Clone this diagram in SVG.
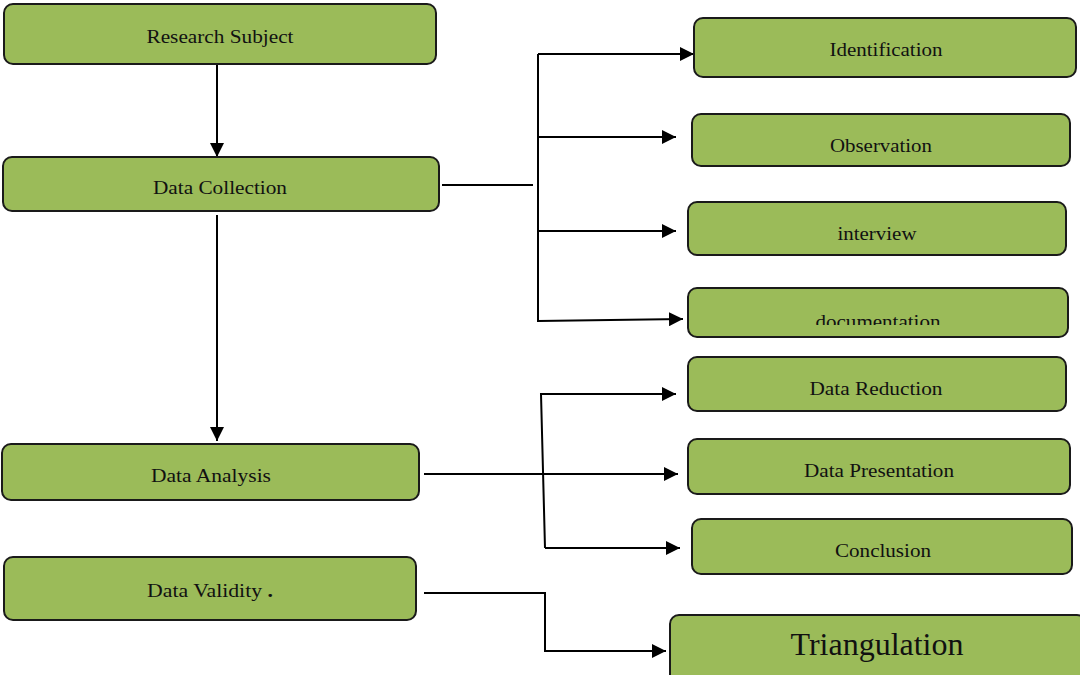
<svg xmlns="http://www.w3.org/2000/svg" width="1080" height="675" viewBox="0 0 1080 675">
<style>
.box{fill:#9BBB59;stroke:#1a1a1a;stroke-width:2}
.t{font-family:"Liberation Serif","Times New Roman",serif;font-size:19px;fill:#111;text-anchor:middle}
.c{fill:none;stroke:#000;stroke-width:2}
</style>
<defs>
<marker id="ah" viewBox="0 0 10 10" refX="10" refY="5" markerWidth="14" markerHeight="14" markerUnits="userSpaceOnUse" orient="auto">
<path d="M0,0 L10,5 L0,10 Z" fill="#000"/>
</marker>
<clipPath id="docclip"><rect x="688" y="288" width="380" height="37"/></clipPath>
</defs>
<rect width="1080" height="675" fill="#fff"/>
<g id="connectors">
<path class="c" d="M217,64 V157" marker-end="url(#ah)"/>
<path class="c" d="M217,215 V441" marker-end="url(#ah)"/>
<path class="c" d="M442,185 H533"/>
<path class="c" d="M538,54 V322"/>
<path class="c" d="M538,54 H694" marker-end="url(#ah)"/>
<path class="c" d="M538,137 H676" marker-end="url(#ah)"/>
<path class="c" d="M538,231 H676" marker-end="url(#ah)"/>
<path class="c" d="M538,321 L683,319" marker-end="url(#ah)"/>
<path class="c" d="M424,474 H678" marker-end="url(#ah)"/>
<path class="c" d="M545,548 L541,394 H676" marker-end="url(#ah)"/>
<path class="c" d="M545,548 H680" marker-end="url(#ah)"/>
<path class="c" d="M424,593 H545 V651 H666" marker-end="url(#ah)"/>
</g>
<g id="n-research-subject"><rect class="box" x="4" y="4" width="432" height="60" rx="9"/><text class="t" x="220" y="43" textLength="147" lengthAdjust="spacingAndGlyphs">Research Subject</text></g>
<g id="n-data-collection"><rect class="box" x="3" y="157" width="436" height="54" rx="9"/><text class="t" x="220" y="194" textLength="134" lengthAdjust="spacingAndGlyphs">Data Collection</text></g>
<g id="n-data-analysis"><rect class="box" x="2" y="444" width="417" height="56" rx="9"/><text class="t" x="211" y="482" textLength="120" lengthAdjust="spacingAndGlyphs">Data Analysis</text></g>
<g id="n-data-validity"><rect class="box" x="4" y="557" width="412" height="63" rx="9"/><text class="t" x="210" y="597" textLength="126" lengthAdjust="spacingAndGlyphs">Data Validity <tspan font-weight="bold">.</tspan></text></g>
<g id="n-identification"><rect class="box" x="694" y="18" width="382" height="59" rx="9"/><text class="t" x="886" y="56" textLength="113" lengthAdjust="spacingAndGlyphs">Identification</text></g>
<g id="n-observation"><rect class="box" x="692" y="114" width="378" height="52" rx="9"/><text class="t" x="881" y="152" textLength="102" lengthAdjust="spacingAndGlyphs">Observation</text></g>
<g id="n-interview"><rect class="box" x="688" y="202" width="378" height="53" rx="9"/><text class="t" x="877" y="240" textLength="79" lengthAdjust="spacingAndGlyphs">interview</text></g>
<g id="n-documentation"><rect class="box" x="688" y="288" width="380" height="49" rx="9"/><text class="t" x="878" y="328" textLength="125" lengthAdjust="spacingAndGlyphs" clip-path="url(#docclip)">documentation</text></g>
<g id="n-data-reduction"><rect class="box" x="688" y="357" width="378" height="54" rx="9"/><text class="t" x="876" y="395" textLength="133" lengthAdjust="spacingAndGlyphs">Data Reduction</text></g>
<g id="n-data-presentation"><rect class="box" x="688" y="439" width="382" height="55" rx="9"/><text class="t" x="879" y="477" textLength="150" lengthAdjust="spacingAndGlyphs">Data Presentation</text></g>
<g id="n-conclusion"><rect class="box" x="692" y="519" width="380" height="55" rx="9"/><text class="t" x="883" y="557" textLength="96" lengthAdjust="spacingAndGlyphs">Conclusion</text></g>
<g id="n-triangulation"><rect class="box" x="670" y="615" width="416" height="70" rx="9"/><text class="t" x="877" y="655" style="font-size:31px" textLength="173" lengthAdjust="spacingAndGlyphs">Triangulation</text></g>
</svg>
